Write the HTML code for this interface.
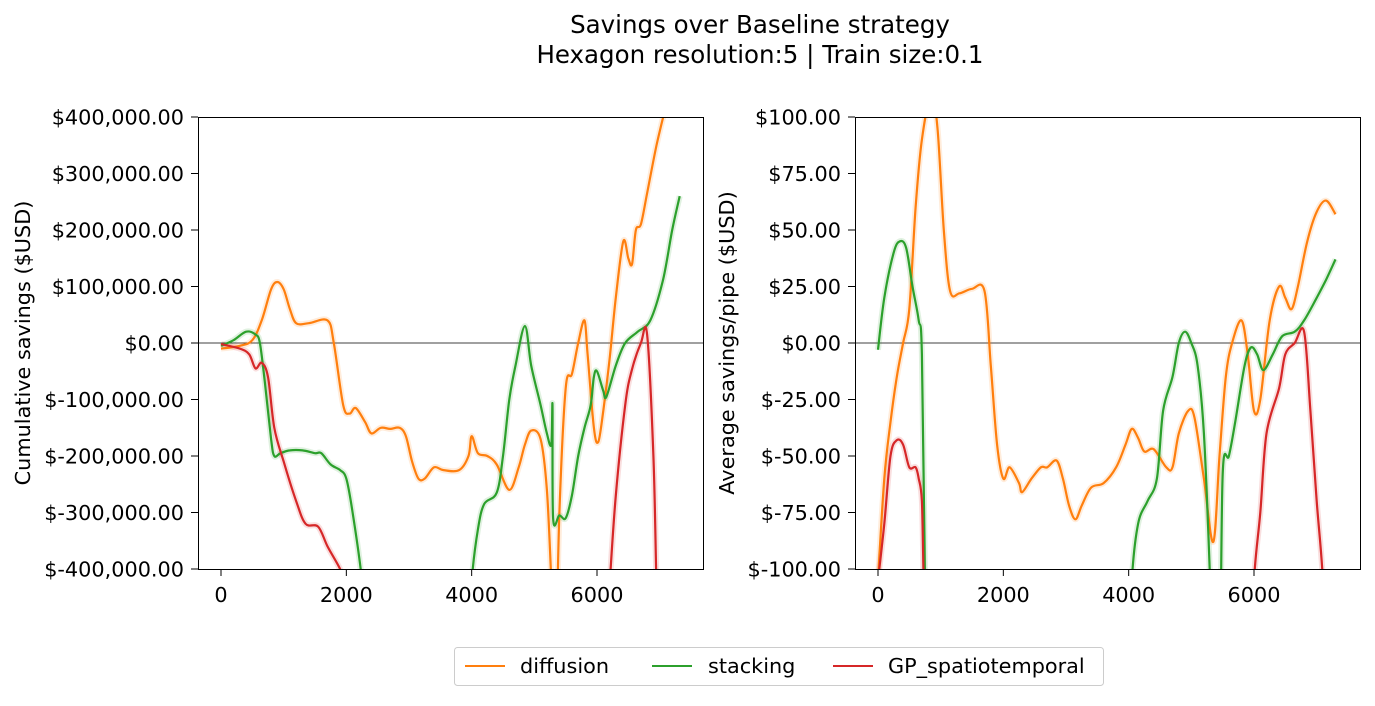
<!DOCTYPE html>
<html><head><meta charset="utf-8">
<style>
body{margin:0;background:#fff;}
svg text{font-family:"DejaVu Sans","Liberation Sans",sans-serif;fill:#000;}
</style></head>
<body>
<svg id="chart" width="1375" height="701" viewBox="0 0 1375 701" xmlns="http://www.w3.org/2000/svg">
<text x="760" y="33" font-size="24.5" text-anchor="middle">Savings over Baseline strategy</text>
<text x="760" y="63" font-size="24.5" text-anchor="middle">Hexagon resolution:5 | Train size:0.1</text>
<defs>
<clipPath id="clipL"><rect x="198" y="117" width="505" height="452"/></clipPath>
<clipPath id="clipR"><rect x="855" y="117" width="505" height="452"/></clipPath>
</defs>
<g id="left"></g>
<g id="right"></g>
<g>
<rect x="454.5" y="647.5" width="649" height="38" rx="3" fill="#fff" stroke="#ccc"/>
<line x1="465" y1="666" x2="505" y2="666" stroke="#ff7f0e" stroke-width="2"/>
<text x="520" y="673" font-size="20.8">diffusion</text>
<line x1="652" y1="666" x2="692" y2="666" stroke="#2ca02c" stroke-width="2"/>
<text x="708" y="673" font-size="20.8">stacking</text>
<line x1="833" y1="666" x2="873" y2="666" stroke="#d62728" stroke-width="2"/>
<text x="888" y="673" font-size="20.8">GP_spatiotemporal</text>
</g>
</svg>
<script>
const xTicks=[0,2000,4000,6000];
const leftYTicks=[400,300,200,100,0,-100,-200,-300,-400];
const rightYTicks=[100,75,50,25,0,-25,-50,-75,-100];
const leftDiffX=[0,300,500,650,800,900,1000,1100,1200,1400,1700,1800,1950,2050,2150,2300,2400,2550,2700,2850,2950,3050,3150,3250,3400,3550,3800,3950,4000,4100,4250,4400,4600,4750,4850,4950,5100,5200,5270,5330,5400,5500,5600,5700,5800,5850,5950,6020,6100,6200,6300,6420,6500,6560,6620,6700,6800,6950,7100];
const leftDiffY=[-10,-5,5,40,95,108,95,60,35,35,40,0,-110,-125,-115,-140,-160,-150,-152,-150,-165,-210,-240,-240,-220,-225,-225,-200,-165,-195,-200,-215,-260,-220,-180,-155,-170,-260,-420,-600,-300,-80,-55,0,40,-20,-150,-175,-120,-30,80,180,150,140,200,210,265,350,420];
const leftStackX=[0,200,400,550,620,700,800,850,950,1100,1300,1500,1600,1750,1900,2000,2100,2250,2400,3900,4000,4100,4200,4400,4500,4600,4700,4850,4950,5100,5200,5270,5290,5300,5400,5500,5600,5700,5800,5900,5950,6000,6100,6150,6300,6450,6650,6850,7050,7200,7320];
const leftStackY=[-5,5,20,15,0,-70,-170,-200,-195,-190,-190,-195,-195,-215,-225,-240,-300,-420,-600,-600,-420,-330,-285,-265,-200,-100,-40,30,-40,-110,-160,-180,-110,-310,-305,-310,-270,-200,-150,-110,-60,-50,-85,-95,-40,0,20,40,110,200,260];
const leftGpX=[0,300,450,550,650,750,850,1000,1200,1350,1550,1700,1900,2000,2100,6100,6200,6300,6450,6550,6700,6800,6900,6950,7000];
const leftGpY=[-2,-10,-20,-45,-35,-60,-150,-210,-280,-320,-325,-360,-400,-430,-600,-600,-430,-270,-110,-50,0,15,-200,-430,-600];
const rightDiffX=[0,100,200,300,400,500,600,700,850,950,1050,1150,1300,1500,1700,1800,1900,2000,2100,2250,2300,2450,2600,2700,2850,2950,3050,3150,3250,3400,3600,3800,3950,4050,4150,4250,4400,4600,4700,4800,4950,5050,5200,5350,5450,5550,5650,5800,5900,6000,6100,6250,6400,6500,6600,6700,6850,7000,7150,7300];
const rightDiffY=[-105,-60,-35,-15,0,15,60,90,110,95,50,23,22,24,23,-10,-45,-60,-55,-62,-66,-60,-55,-55,-52,-60,-72,-78,-72,-64,-62,-55,-45,-38,-42,-48,-47,-55,-55,-40,-30,-33,-60,-88,-50,-15,0,10,-5,-30,-25,10,25,20,15,25,45,58,63,57];
const rightStackX=[0,100,250,350,450,550,650,700,750,800,4000,4050,4150,4300,4450,4550,4700,4800,4900,5000,5100,5200,5300,5350,5450,5500,5600,5700,5850,5950,6050,6150,6300,6450,6650,6800,7000,7150,7300];
const rightStackY=[-3,20,40,45,42,25,10,-5,-105,-150,-150,-105,-80,-70,-60,-30,-15,0,5,0,-10,-40,-105,-150,-150,-58,-50,-35,-10,-2,-5,-12,-5,3,5,10,20,28,37];
const rightGpX=[0,100,200,300,400,500,600,650,700,730,780,5950,6000,6100,6200,6400,6500,6650,6800,6900,7000,7100,7150];
const rightGpY=[-105,-80,-50,-43,-45,-55,-55,-60,-70,-105,-150,-150,-105,-75,-40,-20,-5,0,5,-30,-70,-105,-150];

const NS='http://www.w3.org/2000/svg';
function mk(tag,attrs,parent){const e=document.createElementNS(NS,tag);for(const k in attrs)e.setAttribute(k,attrs[k]);parent.appendChild(e);return e;}
function smoothPath(pts){
  let d='M'+pts[0][0].toFixed(1)+','+pts[0][1].toFixed(1);
  for(let i=0;i<pts.length-1;i++){
    const p0=pts[i-1]||pts[i],p1=pts[i],p2=pts[i+1],p3=pts[i+2]||p2;
    const c1=[p1[0]+(p2[0]-p0[0])/6,p1[1]+(p2[1]-p0[1])/6];
    const c2=[p2[0]-(p3[0]-p1[0])/6,p2[1]-(p3[1]-p1[1])/6];
    d+=' C'+c1[0].toFixed(1)+','+c1[1].toFixed(1)+' '+c2[0].toFixed(1)+','+c2[1].toFixed(1)+' '+p2[0].toFixed(1)+','+p2[1].toFixed(1);
  }
  return d;
}
function money(v){const s=Math.abs(v).toLocaleString('en-US',{minimumFractionDigits:2,maximumFractionDigits:2});return v<0?'$-'+s:'$'+s;}
function panel(g,x0,clip,ymax,yTicks,mult,label,labelX,series,pre){
  const left=x0,w=505,top=117,h=452;
  const xs=v=>left+23+v*0.062667;
  const ys=v=>top+h/2-v/ymax*(h/2);
  const z=mk('line',{x1:left,x2:left+w,y1:ys(0),y2:ys(0),stroke:'#000','stroke-width':0.8},g);
  
  
  const sg=mk('g',{'clip-path':'url(#'+clip+')'},g);
  
  
  series.forEach(s=>{
    const pts=s.x.map((v,i)=>[xs(v),ys(s.y[i])]);
    const halo=mk('path',{d:smoothPath(pts),fill:'none',stroke:s.c,'stroke-width':6,opacity:0.15},sg);
    
    
  });
  series.forEach(s=>{
    const pts=s.x.map((v,i)=>[xs(v),ys(s.y[i])]);
    const p=mk('path',{d:smoothPath(pts),fill:'none',stroke:s.c,'stroke-width':2.2},sg);
    
    
  });
  const fr=mk('rect',{x:left+0.5,y:top+0.5,width:w,height:h,fill:'none',stroke:'#000','stroke-width':1},g);
  
  
  xTicks.forEach(t=>{
    const X=xs(t);
    const l=mk('line',{x1:X,x2:X,y1:top+h,y2:top+h+7,stroke:'#000'},g);
    
    
    const tx=mk('text',{x:X,y:602,'font-size':20.8,'text-anchor':'middle'},g);
    tx.textContent=t;
    
    
  });
  yTicks.forEach(t=>{
    const Y=ys(t);
    const l=mk('line',{x1:left-7,x2:left,y1:Y,y2:Y,stroke:'#000'},g);
    
    
    const tx=mk('text',{x:left-14,y:Y+7.5,'font-size':20.8,'text-anchor':'end'},g);
    tx.textContent=money(t*mult);
    
    
  });
  const cy=top+h/2;
  const yl=mk('text',{x:labelX,y:cy,'font-size':20.8,'text-anchor':'middle',transform:'rotate(-90 '+labelX+' '+cy+')'},g);
  yl.textContent=label;
  
  
}
panel(document.getElementById('left'),198,'clipL',400,leftYTicks,1000,'Cumulative savings ($USD)',30,[
 {n:'diffusion',c:'#ff7f0e',x:leftDiffX,y:leftDiffY},
 {n:'stacking',c:'#2ca02c',x:leftStackX,y:leftStackY},
 {n:'gp',c:'#d62728',x:leftGpX,y:leftGpY}],'left');
panel(document.getElementById('right'),855,'clipR',100,rightYTicks,1,'Average savings/pipe ($USD)',734,[
 {n:'diffusion',c:'#ff7f0e',x:rightDiffX,y:rightDiffY},
 {n:'stacking',c:'#2ca02c',x:rightStackX,y:rightStackY},
 {n:'gp',c:'#d62728',x:rightGpX,y:rightGpY}],'right');
</script>
</body></html>
